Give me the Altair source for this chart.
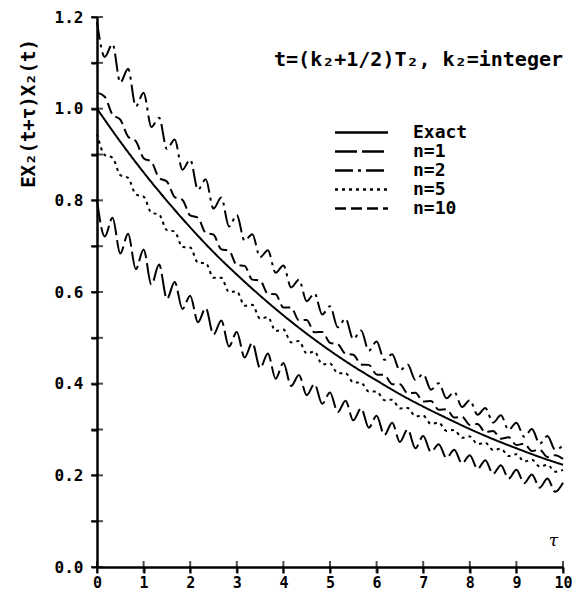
import altair as alt
import pandas as pd

# ---- data ----
TAU = [0, 0.167, 0.333, 0.5, 0.667, 0.833, 1, 1.167, 1.333, 1.5, 1.667, 1.833,
       2, 2.167, 2.333, 2.5, 2.667, 2.833, 3, 3.167, 3.333, 3.5, 3.667, 3.833,
       4, 4.167, 4.333, 4.5, 4.667, 4.833, 5, 5.167, 5.333, 5.5, 5.667, 5.833,
       6, 6.167, 6.333, 6.5, 6.667, 6.833, 7, 7.167, 7.333, 7.5, 7.667, 7.833,
       8, 8.167, 8.333, 8.5, 8.667, 8.833, 9, 9.167, 9.333, 9.5, 9.667, 9.833, 10]

TAU_EXACT = [0, 0.5, 1, 1.5, 2, 2.5, 3, 3.5, 4, 4.5, 5, 5.5, 6, 6.5, 7, 7.5,
             8, 8.5, 9, 9.5, 10]
EXACT = [1.000, 0.928, 0.861, 0.799, 0.741, 0.687, 0.638, 0.592, 0.549, 0.509,
         0.472, 0.438, 0.407, 0.377, 0.350, 0.325, 0.301, 0.279, 0.259, 0.240,
         0.223]

N1 = [0.800, 0.721, 0.762, 0.684, 0.727, 0.650, 0.693, 0.616, 0.660, 0.585,
      0.622, 0.563, 0.592, 0.534, 0.565, 0.507, 0.538, 0.481, 0.513, 0.457,
      0.489, 0.434, 0.466, 0.411, 0.445, 0.395, 0.419, 0.375, 0.399, 0.356,
      0.381, 0.338, 0.363, 0.320, 0.346, 0.304, 0.330, 0.288, 0.315, 0.273,
      0.300, 0.259, 0.286, 0.251, 0.268, 0.238, 0.256, 0.226, 0.244, 0.214,
      0.233, 0.203, 0.222, 0.193, 0.212, 0.183, 0.202, 0.173, 0.193, 0.164,
      0.184]

N2 = [1.190, 1.113, 1.141, 1.057, 1.087, 1.005, 1.035, 0.960, 0.980, 0.912,
      0.933, 0.867, 0.889, 0.823, 0.846, 0.782, 0.806, 0.743, 0.768, 0.712,
      0.726, 0.676, 0.691, 0.642, 0.658, 0.610, 0.627, 0.580, 0.597, 0.551,
      0.569, 0.523, 0.542, 0.497, 0.516, 0.472, 0.492, 0.452, 0.464, 0.429,
      0.442, 0.408, 0.421, 0.387, 0.401, 0.368, 0.382, 0.349, 0.364, 0.332,
      0.347, 0.315, 0.331, 0.299, 0.315, 0.284, 0.301, 0.269, 0.286, 0.256,
      0.265]

N5 = [0.945, 0.899, 0.893, 0.855, 0.849, 0.813, 0.808, 0.773, 0.769, 0.735,
      0.732, 0.698, 0.697, 0.664, 0.663, 0.631, 0.631, 0.600, 0.601, 0.570,
      0.572, 0.542, 0.545, 0.515, 0.518, 0.490, 0.493, 0.466, 0.470, 0.442,
      0.444, 0.423, 0.423, 0.403, 0.402, 0.383, 0.383, 0.364, 0.365, 0.346,
      0.347, 0.329, 0.330, 0.312, 0.315, 0.297, 0.299, 0.282, 0.285, 0.268,
      0.271, 0.255, 0.258, 0.242, 0.246, 0.230, 0.234, 0.219, 0.223, 0.208,
      0.212]

N10 = [1.035, 1.026, 0.987, 0.976, 0.939, 0.929, 0.892, 0.884, 0.849, 0.841,
       0.807, 0.801, 0.767, 0.762, 0.729, 0.725, 0.693, 0.690, 0.659, 0.657,
       0.627, 0.625, 0.596, 0.595, 0.566, 0.566, 0.538, 0.539, 0.512, 0.513,
       0.489, 0.486, 0.465, 0.463, 0.442, 0.441, 0.420, 0.419, 0.399, 0.399,
       0.379, 0.380, 0.361, 0.362, 0.343, 0.344, 0.326, 0.328, 0.310, 0.312,
       0.294, 0.297, 0.280, 0.283, 0.266, 0.269, 0.253, 0.256, 0.240, 0.244,
       0.236]

SERIES = ["Exact", "n=1", "n=2", "n=5", "n=10"]
DASHES = [[1, 0], [22, 5], [18, 5, 3, 5], [3, 4], [11, 5]]
YTICKS = [0.0, 0.1, 0.2, 0.3, 0.4, 0.5, 0.6, 0.7, 0.8, 0.9, 1.0, 1.1, 1.2]
XTICKS = [0, 1, 2, 3, 4, 5, 6, 7, 8, 9, 10]
NOTE = "t=(k\u2082+1/2)T\u2082, k\u2082=integer"

rows = []
for t, v in zip(TAU_EXACT, EXACT):
    rows.append({"tau": t, "val": v, "series": "Exact"})
for name, vals in [("n=1", N1), ("n=2", N2), ("n=5", N5), ("n=10", N10)]:
    for t, v in zip(TAU, vals):
        rows.append({"tau": t, "val": v, "series": name})
df = pd.DataFrame(rows)

FONT = "DejaVu Sans Mono"
W, H = 466, 550

dash_scale = alt.Scale(domain=SERIES, range=DASHES)
xs = alt.Scale(domain=[0, 10], nice=False, zero=False)
ys = alt.Scale(domain=[0, 1.2], nice=False, zero=False)

lines = alt.Chart(df).mark_line(interpolate="monotone", stroke="black", strokeWidth=2).encode(
    x=alt.X("tau:Q", scale=xs, axis=alt.Axis(
        values=XTICKS, format="d", title="τ", titleX=456, titleY=-27,
        titleFontStyle="italic", titleFontSize=17, titleFont="DejaVu Serif", titleFontWeight="normal",
        titleColor="black", titleBaseline="middle", titleAlign="center",
        labelFont=FONT, labelFontSize=15, labelFontWeight="bold", labelColor="black",
        labelPadding=2, tickSize=6, tickWidth=2, tickColor="black",
        domainColor="black", domainWidth=2.5, grid=False, labelFlush=False)),
    y=alt.Y("val:Q", scale=ys, axis=alt.Axis(
        values=YTICKS, labelExpr="round(datum.value*10) % 2 == 0 ? format(datum.value, '.1f') : ''",
        title="EX\u2082(t+τ)X\u2082(t)", titleX=-69, titleY=96, titleAngle=270,
        titleAlign="center", titleBaseline="middle", titleFont=FONT, titleFontSize=19,
        titleFontWeight="bold", titleColor="black",
        labelFont=FONT, labelFontSize=16, labelFontWeight="bold", labelColor="black",
        labelPadding=8, tickSize=6, tickWidth=2, tickColor="black",
        domainColor="black", domainWidth=2.5, grid=False, labelFlush=False)),
    strokeDash=alt.StrokeDash("series:N", scale=dash_scale, legend=None),
    detail="series:N",
)

ytick_df = pd.DataFrame({"val": YTICKS})
yticks = alt.Chart(ytick_df).mark_tick(orient="horizontal", color="black", size=12, thickness=2).encode(
    y=alt.Y("val:Q", scale=ys), x=alt.value(0))
xtick_df = pd.DataFrame({"tau": XTICKS})
xticks = alt.Chart(xtick_df).mark_tick(orient="vertical", color="black", size=12, thickness=2).encode(
    x=alt.X("tau:Q", scale=xs), y=alt.value(H))

note = alt.Chart(pd.DataFrame({"t": [NOTE]})).mark_text(
    font=FONT, fontSize=20, fontWeight="bold", align="right", baseline="middle", color="black").encode(
    x=alt.value(W), y=alt.value(43), text="t:N")

main = alt.layer(lines, yticks, xticks, note)

leg_df = pd.DataFrame({"series": SERIES})
leg_y = alt.Y("series:N", scale=alt.Scale(domain=SERIES, range=[106, 201], padding=0), axis=None)
leg_rules = alt.Chart(leg_df).mark_rule(stroke="black", strokeWidth=2.5).encode(
    x=alt.value(238), x2=alt.value(291), y=leg_y,
    strokeDash=alt.StrokeDash("series:N", scale=dash_scale, legend=None))
leg_text = alt.Chart(leg_df).mark_text(
    font=FONT, fontSize=18, fontWeight="bold", align="left", baseline="middle", color="black").encode(
    x=alt.value(316), y=leg_y, text="series:N")
legend = alt.layer(leg_rules, leg_text)

chart = alt.layer(main, legend).resolve_scale(y="independent").properties(
    width=W, height=H,
    autosize=alt.AutoSizeParams(type="none"),
    padding={"left": 89, "top": 9, "right": 9, "bottom": 26},
    background="white",
).configure_view(stroke=None)

chart.save("out.html", embed_options={"renderer": "svg", "actions": False})
